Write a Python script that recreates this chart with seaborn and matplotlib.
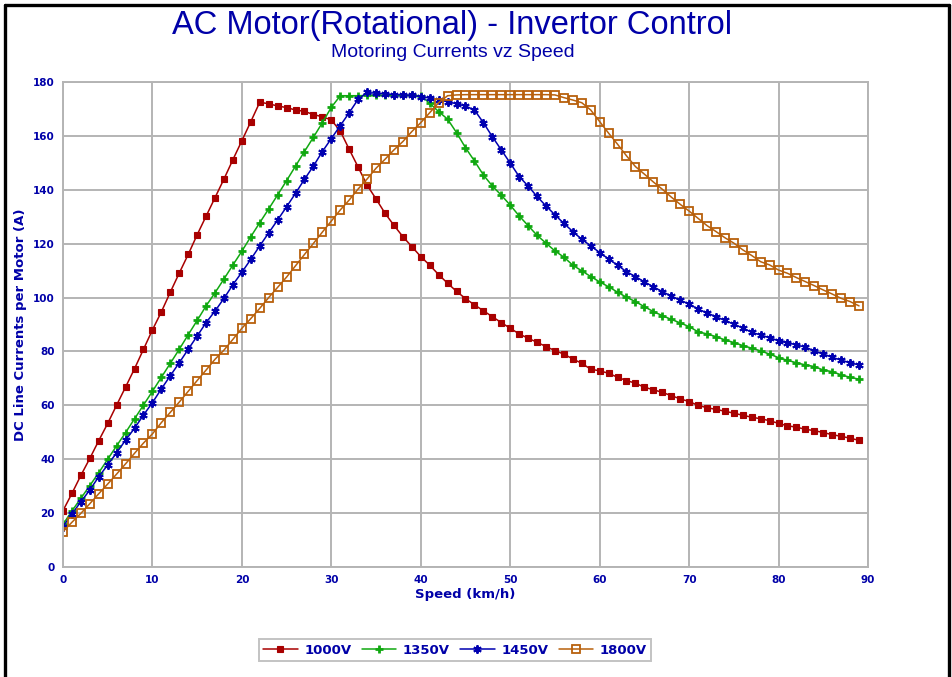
import matplotlib.pyplot as plt
import numpy as np
import pandas as pd
import seaborn as sns
from matplotlib.lines import Line2D

# speed steps (km/h) and DC line current per motor (A)
speed = np.arange(0, 90)

i_1000 = [20.9, 27.3, 34.0, 40.3, 46.9, 53.3, 60.1, 66.8, 73.6, 80.8,
          88.0, 94.7, 102.0, 109.1, 116.0, 123.3, 130.2, 137.1, 144.0, 151.2,
          158.2, 165.3, 172.5, 171.9, 171.1, 170.5, 169.6, 169.1, 167.9, 167.1,
          165.9, 161.8, 155.0, 148.4, 141.7, 136.6, 131.3, 126.8, 122.6, 118.9,
          115.2, 112.0, 108.5, 105.3, 102.3, 99.6, 97.3, 95.1, 92.9, 90.7,
          88.6, 86.5, 84.9, 83.4, 81.8, 80.3, 79.0, 77.2, 75.6, 73.4,
          72.8, 71.9, 70.4, 69.2, 68.2, 66.7, 65.8, 64.8, 63.6, 62.4,
          61.4, 60.0, 59.1, 58.5, 57.8, 57.1, 56.3, 55.6, 55.0, 54.3,
          53.3, 52.4, 51.9, 51.1, 50.6, 49.9, 49.1, 48.5, 47.8, 47.0]

i_1350 = [15.8, 20.8, 25.5, 30.2, 35.0, 40.0, 45.0, 49.9, 55.0, 60.1,
          65.2, 70.4, 75.6, 80.8, 86.2, 91.5, 96.9, 101.8, 106.9, 112.1,
          117.2, 122.6, 127.8, 132.9, 138.1, 143.4, 148.8, 154.2, 159.5, 164.9,
          170.6, 174.9, 174.9, 174.9, 175.0, 175.0, 175.0, 175.0, 175.0, 175.0,
          174.9, 172.1, 169.0, 166.2, 161.2, 155.6, 150.7, 145.5, 141.4, 138.0,
          134.3, 130.3, 126.7, 123.1, 120.2, 117.3, 115.0, 112.0, 109.9, 107.8,
          105.8, 104.0, 102.0, 100.1, 98.5, 96.6, 94.8, 93.3, 91.9, 90.6,
          89.2, 87.3, 86.5, 85.5, 84.3, 83.3, 82.2, 81.2, 80.2, 79.0,
          77.7, 76.7, 75.8, 75.0, 74.4, 73.1, 72.5, 71.3, 70.4, 69.7]

i_1450 = [15.0, 19.7, 24.2, 28.6, 33.5, 37.9, 42.4, 47.1, 51.5, 56.4,
          61.0, 66.1, 71.0, 75.8, 80.8, 85.7, 90.7, 95.0, 99.7, 104.8,
          109.4, 114.2, 119.2, 124.0, 128.8, 133.7, 138.7, 143.9, 148.8, 154.2,
          159.0, 163.8, 168.6, 173.6, 176.1, 175.8, 175.6, 175.3, 175.2, 175.0,
          174.6, 174.0, 173.4, 172.7, 171.9, 171.1, 169.6, 164.9, 159.7, 154.8,
          149.9, 144.9, 141.4, 137.5, 134.0, 130.7, 127.5, 124.5, 121.6, 119.2,
          116.7, 114.3, 112.0, 109.6, 107.8, 105.8, 104.0, 102.2, 100.6, 99.0,
          97.6, 95.7, 94.3, 92.9, 91.5, 90.1, 88.7, 87.1, 86.1, 85.1,
          84.0, 83.3, 82.4, 81.6, 80.2, 79.1, 77.8, 76.8, 75.8, 75.0]

i_1800 = [13.1, 16.6, 19.9, 23.5, 27.2, 30.8, 34.5, 38.3, 42.2, 46.0,
          49.4, 53.6, 57.4, 61.2, 65.2, 69.2, 73.1, 77.1, 80.5, 84.5,
          88.6, 92.2, 96.0, 100.0, 103.8, 107.6, 111.8, 116.0, 120.1, 124.3,
          128.4, 132.5, 136.2, 140.3, 144.0, 148.0, 151.3, 154.8, 157.9, 161.6,
          164.9, 168.6, 172.3, 174.9, 175.2, 175.3, 175.3, 175.3, 175.3, 175.3,
          175.3, 175.3, 175.3, 175.3, 175.3, 175.2, 174.2, 173.3, 172.3, 169.6,
          165.3, 161.0, 156.9, 152.6, 148.6, 145.8, 142.9, 140.2, 137.3, 134.6,
          132.1, 129.4, 126.7, 124.5, 122.2, 120.2, 117.7, 115.6, 113.3, 112.1,
          110.2, 109.0, 107.4, 105.9, 104.4, 102.8, 101.3, 99.7, 98.5, 96.9]

labels = ["1000V", "1350V", "1450V", "1800V"]

df = pd.DataFrame({"speed": speed, "1000V": i_1000, "1350V": i_1350,
                   "1450V": i_1450, "1800V": i_1800})
df = df.melt(id_vars="speed", var_name="voltage", value_name="current")

sns.set_style("white")
plt.rcParams["font.family"] = ["DejaVu Sans"]

blue_txt = "#0000a8"
grid_c = "#b4b4b4"

styles = {
    "1000V": dict(color="#a80000", marker="s", markersize=5,
                  markerfacecolor="#a80000", markeredgecolor="#a80000", markeredgewidth=0.8),
    "1350V": dict(color="#10a810", marker="+", markersize=5.5,
                  markerfacecolor="#10a810", markeredgecolor="#10a810", markeredgewidth=2.0),
    "1450V": dict(color="#0000b0", marker=(6, 2, 0), markersize=6,
                  markerfacecolor="#0000b0", markeredgecolor="#0000b0", markeredgewidth=1.4),
    "1800V": dict(color="#b8600c", marker="s", markersize=5.5,
                  markerfacecolor="none", markeredgecolor="#b8600c", markeredgewidth=1.3),
}

fig, ax = plt.subplots(figsize=(9.53, 6.77), dpi=100)
fig.subplots_adjust(left=0.0661, right=0.9108, top=0.8789, bottom=0.1625)

for lab in labels:
    sub = df[df["voltage"] == lab]
    sns.lineplot(data=sub, x="speed", y="current", ax=ax, label=lab,
                 linewidth=1.1, **styles[lab])

ax.set_xlim(0, 90)
ax.set_ylim(0, 180)
ax.set_xticks(range(0, 91, 10))
ax.set_yticks(range(0, 181, 20))
ax.grid(True, color=grid_c, linewidth=1.4)
for s in ax.spines.values():
    s.set_color(grid_c)
    s.set_linewidth(1.4)
ax.tick_params(axis="both", direction="out", length=4, width=1.2, color=grid_c,
               labelcolor=blue_txt, labelsize=7.5, pad=2)
for t in ax.get_xticklabels() + ax.get_yticklabels():
    t.set_fontweight("bold")

ax.set_xlabel("Speed (km/h)", color=blue_txt, fontsize=9.5, fontweight="bold", labelpad=2)
ax.set_ylabel("DC Line Currents per Motor (A)", color=blue_txt, fontsize=9.5,
              fontweight="bold", labelpad=4)

fig.text(0.474, 0.963, "AC Motor(Rotational) - Invertor Control", ha="center", va="center",
         color=blue_txt, fontsize=23.5, family=["Liberation Sans", "DejaVu Sans"])
fig.text(0.475, 0.923, "Motoring Currents vz Speed", ha="center", va="center",
         color=blue_txt, fontsize=14, family=["Liberation Sans", "DejaVu Sans"])

ax.get_legend().remove()
handles, lbls = ax.get_legend_handles_labels()
leg = fig.legend(handles, lbls, loc="center", bbox_to_anchor=(455 / 953, 1 - 650 / 677),
                 ncol=4, frameon=True, fancybox=False, edgecolor=grid_c,
                 handlelength=2.6, handletextpad=0.5, columnspacing=0.8,
                 borderpad=0.35, prop={"weight": "bold", "size": 9.5})
leg.get_frame().set_linewidth(1.4)
for t in leg.get_texts():
    t.set_color(blue_txt)

# black frame round the page (left, top, right)
for xs, ys in [([4.5 / 953, 4.5 / 953], [0, 1 - 4.5 / 677]),
               ([4.5 / 953, 949 / 953], [1 - 4.5 / 677, 1 - 4.5 / 677]),
               ([949 / 953, 949 / 953], [1 - 4.5 / 677, 0])]:
    fig.add_artist(Line2D(xs, ys, transform=fig.transFigure, color="black", linewidth=2.4))

fig.savefig("out.png", dpi=100)
